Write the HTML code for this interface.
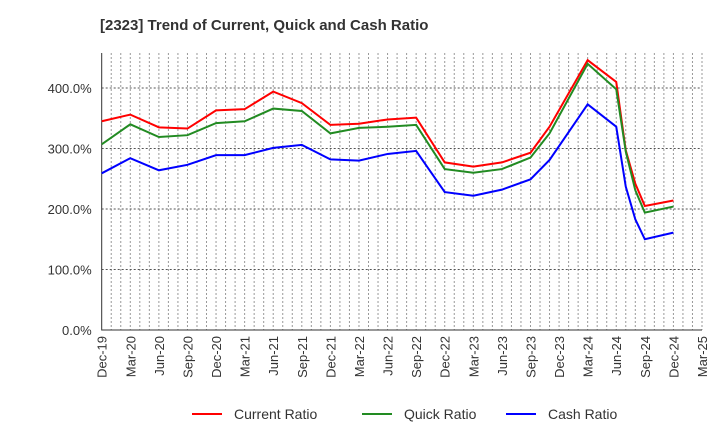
<!DOCTYPE html>
<html><head><meta charset="utf-8"><style>
body{margin:0;background:#fff;font-family:"Liberation Sans",sans-serif}
</style></head><body>
<svg id="chart" width="720" height="440" xmlns="http://www.w3.org/2000/svg" font-family="Liberation Sans, sans-serif">
<text x="100" y="30" font-size="15" font-weight="bold" fill="#333">[2323]  Trend of Current, Quick and Cash Ratio</text>
<g id="grid"></g><g id="axes"></g><g id="series"></g>
<g>
<line x1="192" y1="414" x2="222" y2="414" stroke="#f00" stroke-width="2"/>
<text x="234" y="419" font-size="14" fill="#333">Current Ratio</text>
<line x1="362" y1="414" x2="392" y2="414" stroke="#228b22" stroke-width="2"/>
<text x="404" y="419" font-size="14" fill="#333">Quick Ratio</text>
<line x1="506" y1="414" x2="536" y2="414" stroke="#00f" stroke-width="2"/>
<text x="548" y="419" font-size="14" fill="#333">Cash Ratio</text>
</g>
</svg>
<script>
const tickLabels=["Dec-19","Mar-20","Jun-20","Sep-20","Dec-20","Mar-21","Jun-21","Sep-21","Dec-21","Mar-22","Jun-22","Sep-22","Dec-22","Mar-23","Jun-23","Sep-23","Dec-23","Mar-24","Jun-24","Sep-24","Dec-24","Mar-25"];
const months=[0,3,6,9,12,15,18,21,24,27,30,33,36,39,42,45,47,51,54,55,56,57,60];
const current=[345,356,335,333,363,365,394,375,339,341,348,351,277,270,277,293,336,446,410,297,242,205,214];
const quick=[307,340,319,322,342,345,366,362,325,334,336,339,266,260,266,285,325,440,398,295,231,194,204];
const cash=[259,284,264,273,289,289,301,306,282,280,291,296,228,222,232,249,281,373,336,237,183,150,161];
const yTicks=[0,100,200,300,400];
const X0=101.7,X1=702,Y0=330,YT=53,YMAX=(330-53)/0.605;
const NS="http://www.w3.org/2000/svg";
const xs=m=>X0+m*(X1-X0)/63;
const ys=v=>Y0-v*(Y0-YT)/YMAX;
function mk(t,a,p){const e=document.createElementNS(NS,t);for(const k in a)e.setAttribute(k,a[k]);p.appendChild(e);return e;}
const grid=document.getElementById('grid'),axes=document.getElementById('axes'),ser=document.getElementById('series');
for(let m=1;m<=63;m++){const l=mk('line',{x1:xs(m),x2:xs(m),y1:YT,y2:Y0,stroke:'#999','stroke-width':1,'stroke-dasharray':'2,2'},grid);

}
yTicks.forEach(v=>{if(v>0){const l=mk('line',{x1:X0,x2:X1,y1:ys(v),y2:ys(v),stroke:'#555','stroke-width':1,'stroke-dasharray':'2,2'},grid);

}
const t=mk('text',{x:X0-10,y:ys(v)+5,'font-size':13,'text-anchor':'end',fill:'#333'},axes);t.textContent=v.toFixed(1)+'%';

});
tickLabels.forEach((s,i)=>{const x=xs(i*3);const t=mk('text',{x:0,y:0,'font-size':13,'text-anchor':'end',fill:'#333',transform:`translate(${x+5},${Y0+6}) rotate(-90)`},axes);t.textContent=s;

});
const ax=mk('path',{d:`M${X0},${YT}V${Y0}H${X1}`,fill:'none',stroke:'#333','stroke-width':1},axes);


[[current,'#f00','current-ratio-line'],[quick,'#228b22','quick-ratio-line'],[cash,'#00f','cash-ratio-line']].forEach(([d,c,n])=>{
const p=mk('polyline',{points:d.map((v,i)=>xs(months[i])+','+ys(v)).join(' '),fill:'none',stroke:c,'stroke-width':2},ser);

});
</script>
</body></html>
